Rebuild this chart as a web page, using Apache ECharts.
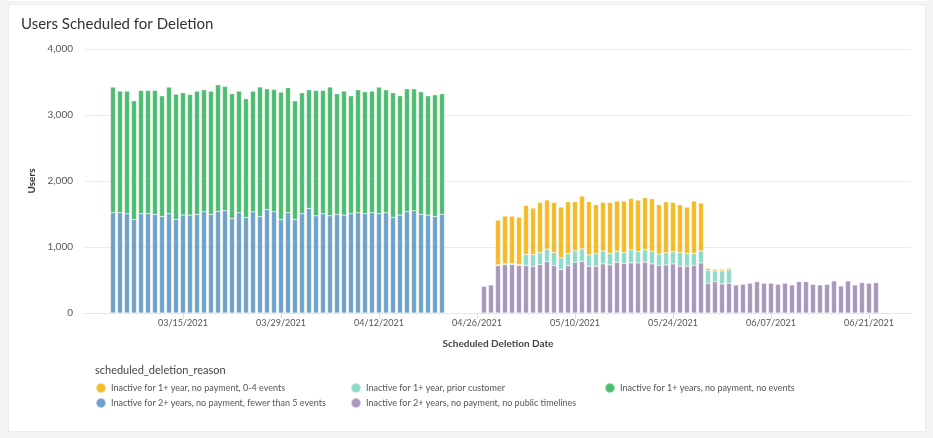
<!DOCTYPE html>
<html>
<head>
<meta charset="utf-8">
<script src="https://cdn.jsdelivr.net/npm/echarts@6/dist/echarts.min.js"></script>
<style>
  html, body { margin: 0; padding: 0; background: #f4f4f6; width: 933px; height: 438px; overflow: hidden; }
  #card { position: absolute; left: 8px; top: 4px; width: 918px; height: 428px; background: #fff; box-sizing: border-box; border: 1px solid #ececef; }
  #topcard { position: absolute; left: 8px; top: -10px; width: 918px; height: 11px; background: #fff; }
  #chart { position: absolute; left: 0; top: 0; width: 933px; height: 438px; }
</style>
</head>
<body>
<div id="topcard"></div>
<div id="card"></div>
<div id="chart"></div>
<script>
// ---- data ----
const axisStart = '2021-03-01';
const axisDays = 119; // 03/01/2021 .. 06/27/2021
const group1Start = '2021-03-05'; // 48 days
const group2Start = '2021-04-27'; // 57 days

const blueValues = [1519,1519,1504,1418,1504,1504,1494,1463,1504,1418,1484,1484,1494,1534,1494,1539,1549,1433,1519,1448,1534,1463,1565,1534,1418,1519,1418,1504,1585,1473,1504,1473,1494,1484,1504,1519,1504,1519,1504,1519,1448,1484,1534,1549,1494,1484,1463,1494];
const greenValues = [1904,1843,1858,1797,1868,1868,1878,1828,1919,1898,1853,1827,1868,1848,1868,1919,1884,1889,1843,1798,1828,1960,1832,1853,1929,1894,1797,1833,1797,1899,1868,1950,1828,1878,1787,1863,1848,1843,1919,1863,1889,1807,1863,1848,1858,1807,1843,1828];

const purpleValues = [405,425,719,734,734,719,719,709,734,780,719,658,719,770,780,709,709,744,729,770,754,759,759,770,744,719,729,744,709,709,719,759,451,476,440,451,425,435,451,476,451,451,435,451,425,476,476,435,425,435,486,410,486,425,461,451,461];
const tealValues = [null,null,12,12,12,12,167,177,182,187,197,177,182,172,192,172,192,198,172,167,162,198,173,192,188,172,182,183,207,192,187,183,197,162,198,202];
const yellowValues = [null,null,677,722,722,722,744,704,760,744,760,770,785,744,800,805,740,734,775,759,780,780,779,785,800,750,775,749,725,704,790,724,30,25,25,25];

const seriesNames = {
  yellow: 'Inactive for 1+ year, no payment, 0-4 events',
  teal: 'Inactive for 1+ year, prior customer',
  green: 'Inactive for 1+ years, no payment, no events',
  blue: 'Inactive for 2+ years, no payment, fewer than 5 events',
  purple: 'Inactive for 2+ years, no payment, no public timelines'
};
const colors = { yellow: '#f2bb27', teal: '#8ddbc6', green: '#4dbc70', blue: '#6fa2cb', purple: '#a898bb' };

// ---- build categories ----
function pad(n) { return (n < 10 ? '0' : '') + n; }
function fmt(d) { return pad(d.getUTCMonth() + 1) + '/' + pad(d.getUTCDate()) + '/' + d.getUTCFullYear(); }
const startMs = Date.parse(axisStart + 'T00:00:00Z');
const dayMs = 86400000;
const categories = [];
for (let i = 0; i < axisDays; i++) categories.push(fmt(new Date(startMs + i * dayMs)));
function offsetOf(s) { return Math.round((Date.parse(s + 'T00:00:00Z') - startMs) / dayMs); }
function place(values, startStr) {
  const arr = new Array(axisDays).fill(null);
  const off = offsetOf(startStr);
  values.forEach((v, i) => { arr[off + i] = v; });
  return arr;
}

const showTick = (idx) => idx > 0 && idx % 14 === 0;

function mkSeries(key, values, start) {
  return {
    name: seriesNames[key], type: 'bar', stack: 'total', barWidth: 5,
    data: place(values, start),
    itemStyle: { color: colors[key], borderColor: 'rgba(255,255,255,0.5)', borderWidth: 0.5 },
    emphasis: { disabled: true }
  };
}

const legendPos = [
  { key: 'yellow', left: 95, top: 382 },
  { key: 'teal', left: 350, top: 382 },
  { key: 'green', left: 604, top: 382 },
  { key: 'blue', left: 95, top: 397 },
  { key: 'purple', left: 350, top: 397 }
];

const FONT = 'Lato, "Open Sans", sans-serif';

const chart = echarts.init(document.getElementById('chart'), null, { renderer: 'canvas' });
chart.setOption({
  animation: false,
  textStyle: { fontFamily: FONT },
  title: [
    { text: 'Users Scheduled for Deletion', left: 21, top: 17, padding: 0, textStyle: { fontFamily: FONT, fontSize: 15, fontWeight: 'normal', color: '#333' } },
    { text: 'scheduled_deletion_reason', left: 95, top: 365, padding: 0, textStyle: { fontFamily: FONT, fontSize: 11, fontWeight: 'normal', color: '#444' } }
  ],
  legend: legendPos.map(p => ({
    data: [seriesNames[p.key]], left: p.left, top: p.top, icon: 'circle', itemWidth: 10, itemHeight: 10,
    selectedMode: false, padding: 0,
    textStyle: { fontFamily: FONT, fontSize: 9, color: '#555' }
  })),
  grid: { left: 85, right: 22, top: 49, bottom: 125, containLabel: false },
  xAxis: {
    type: 'category', data: categories, boundaryGap: false,
    name: 'Scheduled Deletion Date', nameLocation: 'middle', nameGap: 26,
    nameTextStyle: { fontFamily: FONT, fontSize: 10, fontWeight: 'bold', color: '#444' },
    axisLine: { lineStyle: { color: '#e6e6e8' } },
    axisTick: { show: true, interval: showTick, length: 6, lineStyle: { color: '#d3dce8' } },
    axisLabel: { interval: showTick, fontSize: 9, color: '#555', margin: 6, fontFamily: FONT },
    splitLine: { show: false }
  },
  yAxis: {
    type: 'value', min: 0, max: 4000, interval: 1000,
    name: 'Users', nameLocation: 'middle', nameGap: 48,
    nameTextStyle: { fontFamily: FONT, fontSize: 10, fontWeight: 'bold', color: '#333' },
    axisLine: { show: false }, axisTick: { show: false },
    axisLabel: { fontSize: 10, color: '#555', margin: 12, fontFamily: FONT,
      formatter: v => v.toLocaleString('en-US') },
    splitLine: { lineStyle: { color: '#ececee' } }
  },
  series: [
    mkSeries('blue', blueValues, group1Start),
    mkSeries('purple', purpleValues, group2Start),
    mkSeries('teal', tealValues, group2Start),
    mkSeries('green', greenValues, group1Start),
    mkSeries('yellow', yellowValues, group2Start)
  ]
});
</script>
</body>
</html>
